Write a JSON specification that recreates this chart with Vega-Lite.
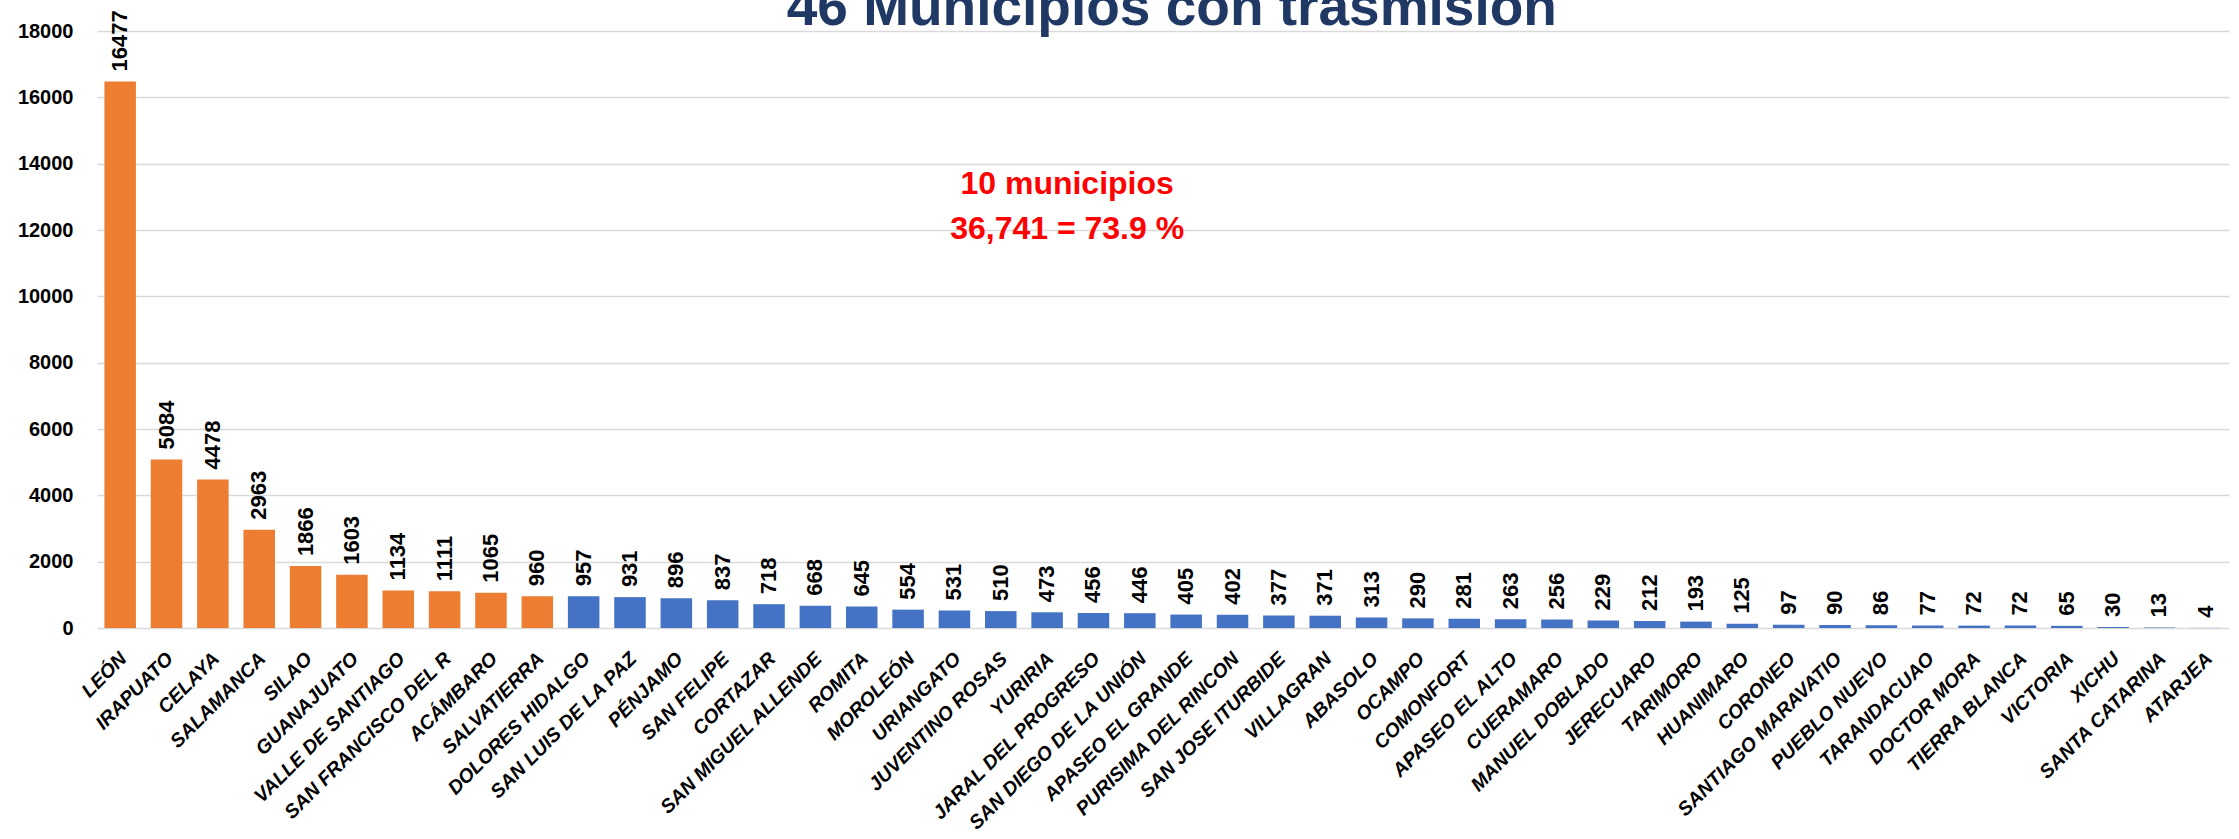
{
  "$schema": "https://vega.github.io/schema/vega-lite/v6.json",
  "autosize": {"type": "none"},
  "padding": {"left": 97, "top": 31, "right": 10, "bottom": 211},
  "width": 2132,
  "height": 597,
  "background": "white",
  "config": {
    "view": {"stroke": null},
    "axis": {"labelColor": "#000000"}
  },
  "datasets": {
    "casos": [
      {"municipio": "LEÓN", "casos": 16477, "grupo": "top"},
      {"municipio": "IRAPUATO", "casos": 5084, "grupo": "top"},
      {"municipio": "CELAYA", "casos": 4478, "grupo": "top"},
      {"municipio": "SALAMANCA", "casos": 2963, "grupo": "top"},
      {"municipio": "SILAO", "casos": 1866, "grupo": "top"},
      {"municipio": "GUANAJUATO", "casos": 1603, "grupo": "top"},
      {"municipio": "VALLE DE SANTIAGO", "casos": 1134, "grupo": "top"},
      {"municipio": "SAN FRANCISCO DEL R", "casos": 1111, "grupo": "top"},
      {"municipio": "ACÁMBARO", "casos": 1065, "grupo": "top"},
      {"municipio": "SALVATIERRA", "casos": 960, "grupo": "top"},
      {"municipio": "DOLORES HIDALGO", "casos": 957, "grupo": "resto"},
      {"municipio": "SAN LUIS DE LA PAZ", "casos": 931, "grupo": "resto"},
      {"municipio": "PÉNJAMO", "casos": 896, "grupo": "resto"},
      {"municipio": "SAN FELIPE", "casos": 837, "grupo": "resto"},
      {"municipio": "CORTAZAR", "casos": 718, "grupo": "resto"},
      {"municipio": "SAN MIGUEL ALLENDE", "casos": 668, "grupo": "resto"},
      {"municipio": "ROMITA", "casos": 645, "grupo": "resto"},
      {"municipio": "MOROLEÓN", "casos": 554, "grupo": "resto"},
      {"municipio": "URIANGATO", "casos": 531, "grupo": "resto"},
      {"municipio": "JUVENTINO ROSAS", "casos": 510, "grupo": "resto"},
      {"municipio": "YURIRIA", "casos": 473, "grupo": "resto"},
      {"municipio": "JARAL DEL PROGRESO", "casos": 456, "grupo": "resto"},
      {"municipio": "SAN DIEGO DE LA UNIÓN", "casos": 446, "grupo": "resto"},
      {"municipio": "APASEO EL GRANDE", "casos": 405, "grupo": "resto"},
      {"municipio": "PURISIMA DEL RINCON", "casos": 402, "grupo": "resto"},
      {"municipio": "SAN JOSE ITURBIDE", "casos": 377, "grupo": "resto"},
      {"municipio": "VILLAGRAN", "casos": 371, "grupo": "resto"},
      {"municipio": "ABASOLO", "casos": 313, "grupo": "resto"},
      {"municipio": "OCAMPO", "casos": 290, "grupo": "resto"},
      {"municipio": "COMONFORT", "casos": 281, "grupo": "resto"},
      {"municipio": "APASEO EL ALTO", "casos": 263, "grupo": "resto"},
      {"municipio": "CUERAMARO", "casos": 256, "grupo": "resto"},
      {"municipio": "MANUEL DOBLADO", "casos": 229, "grupo": "resto"},
      {"municipio": "JERECUARO", "casos": 212, "grupo": "resto"},
      {"municipio": "TARIMORO", "casos": 193, "grupo": "resto"},
      {"municipio": "HUANIMARO", "casos": 125, "grupo": "resto"},
      {"municipio": "CORONEO", "casos": 97, "grupo": "resto"},
      {"municipio": "SANTIAGO MARAVATIO", "casos": 90, "grupo": "resto"},
      {"municipio": "PUEBLO NUEVO", "casos": 86, "grupo": "resto"},
      {"municipio": "TARANDACUAO", "casos": 77, "grupo": "resto"},
      {"municipio": "DOCTOR MORA", "casos": 72, "grupo": "resto"},
      {"municipio": "TIERRA BLANCA", "casos": 72, "grupo": "resto"},
      {"municipio": "VICTORIA", "casos": 65, "grupo": "resto"},
      {"municipio": "XICHU", "casos": 30, "grupo": "resto"},
      {"municipio": "SANTA CATARINA", "casos": 13, "grupo": "resto"},
      {"municipio": "ATARJEA", "casos": 4, "grupo": "resto"}
    ],
    "nota": [
      {"municipio": "YURIRIA", "casos": 13085, "linea": "10 municipios"},
      {"municipio": "YURIRIA", "casos": 11728, "linea": "36,741 = 73.9 %"}
    ],
    "titulo": [
      {"municipio": "SAN DIEGO DE LA UNIÓN", "casos": 18181, "linea": "46 Municipios con trasmisión"}
    ]
  },
  "layer": [
    {
      "data": {"name": "casos"},
      "mark": {"type": "bar"},
      "encoding": {
        "x": {
          "field": "municipio", "type": "nominal", "sort": null,
          "scale": {"paddingInner": 0.32, "paddingOuter": 0.16},
          "axis": {
            "title": null, "labelAngle": -45, "labelFont": "Liberation Sans",
            "labelFontSize": 19.5, "labelFontWeight": "bold", "labelFontStyle": "italic",
            "ticks": false, "tickSize": 0, "domain": false, "labelPadding": 21, "labelOffset": -3,
            "labelLimit": 400, "labelOverlap": false
          }
        },
        "y": {
          "field": "casos", "type": "quantitative",
          "scale": {"domain": [0, 18000], "nice": false},
          "axis": {
            "title": null, "values": [0, 2000, 4000, 6000, 8000, 10000, 12000, 14000, 16000, 18000],
            "format": "d", "labelFont": "Liberation Sans", "labelFontSize": 20, "labelFontWeight": "bold",
            "ticks": false, "tickSize": 0, "domain": false, "labelPadding": 24,
            "gridColor": "#D9D9D9", "gridWidth": 1.6
          }
        },
        "color": {
          "field": "grupo", "type": "nominal",
          "scale": {"domain": ["top", "resto"], "range": ["#ED7D31", "#4472C4"]},
          "legend": null
        }
      }
    },
    {
      "data": {"name": "casos"},
      "mark": {
        "type": "text", "angle": 270, "align": "left", "baseline": "middle", "dx": 10,
        "font": "Liberation Sans", "fontSize": 22, "fontWeight": "bold", "color": "#000000"
      },
      "encoding": {
        "x": {"field": "municipio", "type": "nominal", "sort": null},
        "y": {"field": "casos", "type": "quantitative"},
        "text": {"field": "casos", "type": "quantitative", "format": "d"}
      }
    },
    {
      "data": {"name": "nota"},
      "mark": {
        "type": "text", "align": "center", "baseline": "alphabetic", "dx": 20,
        "font": "Liberation Sans", "fontSize": 32, "fontWeight": "bold", "color": "#FF0000"
      },
      "encoding": {
        "x": {"field": "municipio", "type": "nominal", "sort": null},
        "y": {"field": "casos", "type": "quantitative"},
        "text": {"field": "linea", "type": "nominal"}
      }
    },
    {
      "data": {"name": "titulo"},
      "mark": {
        "type": "text", "align": "center", "baseline": "alphabetic", "dx": 32,
        "font": "Liberation Sans", "fontSize": 55, "fontWeight": "bold", "color": "#1F3864"
      },
      "encoding": {
        "x": {"field": "municipio", "type": "nominal", "sort": null},
        "y": {"field": "casos", "type": "quantitative"},
        "text": {"field": "linea", "type": "nominal"}
      }
    }
  ]
}
